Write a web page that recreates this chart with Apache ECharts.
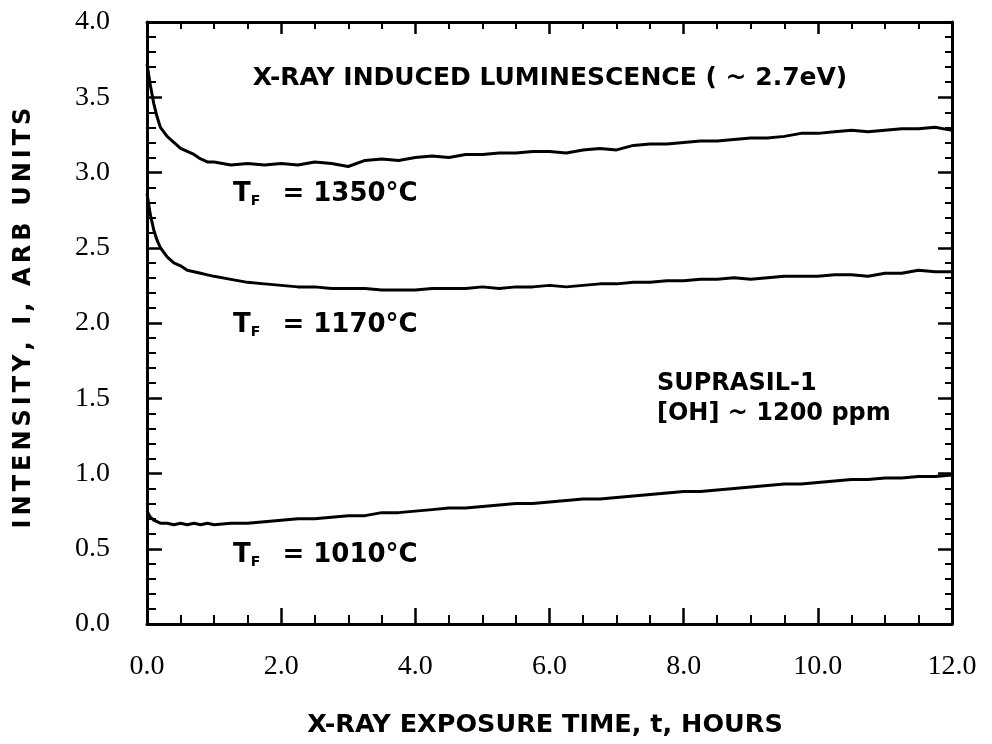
<!DOCTYPE html>
<html>
<head>
<meta charset="utf-8">
<script src="https://cdn.jsdelivr.net/npm/echarts@6/dist/echarts.min.js"></script>
<style>
  html, body { margin: 0; padding: 0; background: #fff; }
  #chart { width: 992px; height: 744px; }
</style>
</head>
<body>
<div id="chart"></div>
<script>
// exposure time, hours
const time = [0, 0.05, 0.1, 0.15, 0.2, 0.3, 0.4, 0.5, 0.6, 0.7, 0.8, 0.9,
  1.0, 1.25, 1.5, 1.75, 2.0, 2.25, 2.5, 2.75, 3.0, 3.25, 3.5, 3.75, 4.0,
  4.25, 4.5, 4.75, 5.0, 5.25, 5.5, 5.75, 6.0, 6.25, 6.5, 6.75, 7.0, 7.25, 7.5, 7.75,
  8.0, 8.25, 8.5, 8.75, 9.0, 9.25, 9.5, 9.75, 10.0, 10.25, 10.5, 10.75, 11.0, 11.25, 11.5, 11.75, 12.0];

// intensity, arb units
const tf1350 = [3.72, 3.58, 3.46, 3.37, 3.30, 3.24, 3.20, 3.16, 3.14, 3.12, 3.09, 3.07,
  3.07, 3.05, 3.06, 3.05, 3.06, 3.05, 3.07, 3.06, 3.04, 3.08, 3.09, 3.08, 3.10,
  3.11, 3.10, 3.12, 3.12, 3.13, 3.13, 3.14, 3.14, 3.13, 3.15, 3.16, 3.15, 3.18, 3.19, 3.19,
  3.20, 3.21, 3.21, 3.22, 3.23, 3.23, 3.24, 3.26, 3.26, 3.27, 3.28, 3.27, 3.28, 3.29, 3.29, 3.30, 3.28];

const tf1170 = [2.86, 2.72, 2.62, 2.55, 2.50, 2.44, 2.40, 2.38, 2.35, 2.34, 2.33, 2.32,
  2.31, 2.29, 2.27, 2.26, 2.25, 2.24, 2.24, 2.23, 2.23, 2.23, 2.22, 2.22, 2.22,
  2.23, 2.23, 2.23, 2.24, 2.23, 2.24, 2.24, 2.25, 2.24, 2.25, 2.26, 2.26, 2.27, 2.27, 2.28,
  2.28, 2.29, 2.29, 2.30, 2.29, 2.30, 2.31, 2.31, 2.31, 2.32, 2.32, 2.31, 2.33, 2.33, 2.35, 2.34, 2.34];

const tf1010 = [0.75, 0.71, 0.69, 0.68, 0.67, 0.67, 0.66, 0.67, 0.66, 0.67, 0.66, 0.67,
  0.66, 0.67, 0.67, 0.68, 0.69, 0.70, 0.70, 0.71, 0.72, 0.72, 0.74, 0.74, 0.75,
  0.76, 0.77, 0.77, 0.78, 0.79, 0.80, 0.80, 0.81, 0.82, 0.83, 0.83, 0.84, 0.85, 0.86, 0.87,
  0.88, 0.88, 0.89, 0.90, 0.91, 0.92, 0.93, 0.93, 0.94, 0.95, 0.96, 0.96, 0.97, 0.97, 0.98, 0.98, 0.99];

const sans = 'DejaVu Sans';
const serif = 'Liberation Serif';

const chart = echarts.init(document.getElementById('chart'));

function axisStyle(showLabels, majorLen, minorLen, split, margin) {
  return {
    axisLine: { show: true, onZero: false, lineStyle: { color: '#000', width: 3 } },
    axisTick: { show: true, inside: true, length: majorLen, lineStyle: { color: '#000', width: 2.5 } },
    minorTick: { show: true, splitNumber: split, length: minorLen, lineStyle: { color: '#000', width: 2 } },
    splitLine: { show: false },
    minorSplitLine: { show: false },
    axisLabel: {
      show: showLabels,
      margin: margin || 8,
      fontFamily: serif,
      fontSize: 28,
      color: '#000',
      formatter: v => v.toFixed(1)
    }
  };
}

function line(vals) {
  return {
    type: 'line',
    data: time.map((t, i) => [t, vals[i]]),
    showSymbol: false,
    lineStyle: { color: '#000', width: 3 },
    silent: true,
    animation: false
  };
}

const label = { fontFamily: sans, fontWeight: 'bold', fontSize: 25, fill: '#000' };

function tfText(x, y, temp) {
  return {
    type: 'text', x: x, y: y,
    style: {
      text: '{a|T}{s|F}{a|  = ' + temp + '°C}',
      textVerticalAlign: 'middle',
      rich: {
        a: { fontFamily: sans, fontWeight: 'bold', fontSize: 26, color: '#000' },
        s: { fontFamily: sans, fontWeight: 'bold', fontSize: 14, color: '#000', padding: [14, 4, 0, 0] }
      }
    }
  };
}

// widened lettering for the vertical title
const yTitle = 'INTENSITY, I, ARB UNITS'.split(' ')
  .map(w => w.split('').join('\u2006')).join('  ');

chart.setOption({
  animation: false,
  grid: { left: 147, right: 40, top: 22, bottom: 120 },
  xAxis: [
    Object.assign({ type: 'value', min: 0, max: 12, interval: 2, position: 'bottom' },
      axisStyle(true, 16, 9, 4, 29)),
    Object.assign({ type: 'value', min: 0, max: 12, interval: 2, position: 'top' },
      axisStyle(false, 12, 7, 4))
  ],
  yAxis: [
    Object.assign({ type: 'value', min: 0, max: 4, interval: 0.5, position: 'left' },
      axisStyle(true, 15, 9, 5, 37)),
    Object.assign({ type: 'value', min: 0, max: 4, interval: 0.5, position: 'right' },
      axisStyle(false, 14, 7, 5))
  ],
  series: [line(tf1350), line(tf1170), line(tf1010)],
  graphic: [
    { type: 'text', x: 550, y: 78, style: Object.assign({ text: 'X-RAY INDUCED LUMINESCENCE ( ~ 2.7eV)', textAlign: 'center', textVerticalAlign: 'middle' }, label) },
    tfText(233, 194, '1350'),
    tfText(233, 325, '1170'),
    tfText(233, 555, '1010'),
    { type: 'text', x: 657, y: 384, style: Object.assign({ text: 'SUPRASIL-1', textVerticalAlign: 'middle' }, label, { fontSize: 24 }) },
    { type: 'text', x: 657, y: 414, style: Object.assign({ text: '[OH] ~ 1200 ppm', textVerticalAlign: 'middle' }, label, { fontSize: 24 }) },
    { type: 'text', x: 545, y: 725, style: Object.assign({ text: 'X-RAY EXPOSURE TIME, t, HOURS', textAlign: 'center', textVerticalAlign: 'middle' }, label, { fontSize: 25.5 }) },
    { type: 'text', x: 24, y: 318, rotation: Math.PI / 2, style: Object.assign({ text: yTitle, textAlign: 'center', textVerticalAlign: 'middle' }, label, { fontSize: 24 }) }
  ]
});
</script>
</body>
</html>
